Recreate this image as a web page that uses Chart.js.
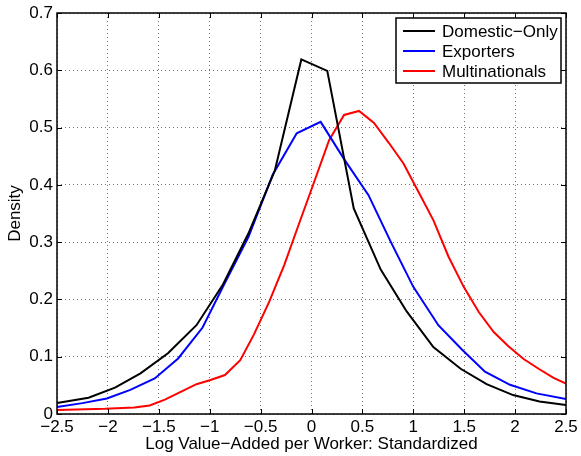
<!DOCTYPE html>
<html>
<head>
<meta charset="utf-8">
<script src="https://cdn.jsdelivr.net/npm/chart.js@4/dist/chart.umd.min.js"></script>
<style>
html,body{margin:0;padding:0;background:#fff;}
#wrap{width:581px;height:456px;}
</style>
</head>
<body>
<div id="wrap"><canvas id="c" width="581" height="456"></canvas></div>
<script>
// ---- data ----
const seriesNames = ['Domestic\u2212Only', 'Exporters', 'Multinationals'];

const domesticX = [-2.5, -2.19, -1.93, -1.68, -1.41, -1.13, -0.87, -0.62, -0.36, -0.10, 0.155, 0.415, 0.68, 0.935, 1.197, 1.465, 1.72, 1.98, 2.24, 2.5];
const domesticY = [0.019, 0.0285, 0.046, 0.071, 0.106, 0.155, 0.226, 0.315, 0.425, 0.619, 0.599, 0.359, 0.252, 0.179, 0.117, 0.079, 0.052, 0.033, 0.022, 0.0155];

const exportersX = [-2.5, -2.25, -2.01, -1.78, -1.54, -1.31, -1.07, -0.85, -0.62, -0.38, -0.145, 0.09, 0.32, 0.56, 0.78, 1.0, 1.246, 1.475, 1.704, 1.95, 2.21, 2.5];
const exportersY = [0.012, 0.019, 0.027, 0.042, 0.062, 0.097, 0.151, 0.229, 0.309, 0.418, 0.49, 0.51, 0.445, 0.382, 0.30, 0.222, 0.155, 0.113, 0.074, 0.051, 0.036, 0.026];

const multiX = [-2.5, -2.03, -1.74, -1.59, -1.44, -1.28, -1.13, -1.0, -0.85, -0.70, -0.565, -0.415, -0.268, -0.121, 0.026, 0.173, 0.32, 0.467, 0.614, 0.761, 0.905, 1.05, 1.198, 1.345, 1.495, 1.643, 1.79, 1.937, 2.084, 2.231, 2.378, 2.5];
const multiY = [0.007, 0.009, 0.0115, 0.015, 0.025, 0.039, 0.052, 0.059, 0.068, 0.094, 0.139, 0.196, 0.26, 0.333, 0.405, 0.478, 0.522, 0.529, 0.508, 0.473, 0.437, 0.388, 0.338, 0.275, 0.222, 0.178, 0.143, 0.118, 0.096, 0.079, 0.063, 0.053];

const xTickLabels = ['\u22122.5', '\u22122', '\u22121.5', '\u22121', '\u22120.5', '0', '0.5', '1', '1.5', '2', '2.5'];
const yTickLabels = ['0', '0.1', '0.2', '0.3', '0.4', '0.5', '0.6', '0.7'];
const xTitle = 'Log Value\u2212Added per Worker: Standardized';
const yTitle = 'Density';

// ---- build ----
const zip = (xs, ys) => xs.map((x, i) => ({x: x, y: ys[i]}));
const colors = ['#000000', '#0000ff', '#ff0000'];
const FONT = '"Liberation Sans", Arial, Helvetica, sans-serif';
const FS = 17;

const boxPlugin = {
  id: 'matlabBox',
  afterDatasetsDraw(chart) {
    const {ctx, chartArea: a, scales} = chart;
    ctx.save();
    ctx.strokeStyle = '#000';
    ctx.lineWidth = 1;
    const tl = 5;
    ctx.beginPath();
    scales.x.ticks.forEach((t, i) => {
      const px = Math.round(scales.x.getPixelForTick(i)) + 0.5;
      ctx.moveTo(px, a.bottom); ctx.lineTo(px, a.bottom - tl);
      ctx.moveTo(px, a.top); ctx.lineTo(px, a.top + tl);
    });
    scales.y.ticks.forEach((t, i) => {
      const py = Math.round(scales.y.getPixelForTick(i)) + 0.5;
      ctx.moveTo(a.left, py); ctx.lineTo(a.left + tl, py);
      ctx.moveTo(a.right, py); ctx.lineTo(a.right - tl, py);
    });
    ctx.stroke();
    ctx.lineWidth = 1.5;
    ctx.strokeRect(a.left, a.top, a.right - a.left, a.bottom - a.top);
    ctx.restore();
  },
  afterDraw(chart) {
    const {ctx, chartArea: a} = chart;
    const bx = a.right - 170, by = a.top + 5, bw = 165, bh = 65;
    ctx.save();
    ctx.fillStyle = '#fff';
    ctx.fillRect(bx, by, bw, bh);
    ctx.strokeStyle = '#000';
    ctx.lineWidth = 1.5;
    ctx.strokeRect(bx, by, bw, bh);
    ctx.font = FS + 'px ' + FONT;
    ctx.textBaseline = 'middle';
    ctx.textAlign = 'left';
    chart.data.datasets.forEach((ds, i) => {
      const y = by + 13 + i * 20;
      ctx.strokeStyle = ds.borderColor;
      ctx.lineWidth = 2;
      ctx.beginPath();
      ctx.moveTo(bx + 7, y); ctx.lineTo(bx + 39, y);
      ctx.stroke();
      ctx.fillStyle = '#000';
      ctx.fillText(ds.label, bx + 46, y + 1);
    });
    ctx.restore();
  }
};

new Chart(document.getElementById('c'), {
  type: 'line',
  data: {
    datasets: [
      {label: seriesNames[0], data: zip(domesticX, domesticY), borderColor: colors[0]},
      {label: seriesNames[1], data: zip(exportersX, exportersY), borderColor: colors[1]},
      {label: seriesNames[2], data: zip(multiX, multiY), borderColor: colors[2]}
    ]
  },
  options: {
    responsive: false,
    animation: false,
    devicePixelRatio: 1,
    layout: {padding: {left: 0, right: 15, top: 13, bottom: 0}},
    elements: {
      point: {radius: 0},
      line: {tension: 0, borderWidth: 2, fill: false}
    },
    plugins: {legend: {display: false}, tooltip: {enabled: false}},
    scales: {
      x: {
        type: 'linear', min: -2.5, max: 2.5,
        ticks: {
          stepSize: 0.5, padding: 3, color: '#000', maxRotation: 0, autoSkip: false,
          font: {family: FONT, size: FS},
          callback: (v, i) => xTickLabels[i]
        },
        grid: {color: 'rgba(0,0,0,0.55)', drawTicks: false, lineWidth: 1},
        border: {display: false, dash: [1, 3]},
        title: {display: true, text: xTitle, color: '#000', font: {family: FONT, size: FS}, padding: {top: 0, bottom: 1}},
        afterFit: s => { s.height = 42; s.paddingLeft = 0; s.paddingRight = 0; }
      },
      y: {
        min: 0, max: 0.7,
        ticks: {
          stepSize: 0.1, padding: 4, color: '#000',
          font: {family: FONT, size: FS},
          callback: (v, i) => yTickLabels[i]
        },
        grid: {color: 'rgba(0,0,0,0.55)', drawTicks: false, lineWidth: 1},
        border: {display: false, dash: [1, 3]},
        title: {display: true, text: yTitle, color: '#000', font: {family: FONT, size: FS}, padding: {top: 5, bottom: 0}},
        afterFit: s => { s.width = 57; s.paddingTop = 0; s.paddingBottom = 0; }
      }
    }
  },
  plugins: [boxPlugin]
});
</script>
</body>
</html>
